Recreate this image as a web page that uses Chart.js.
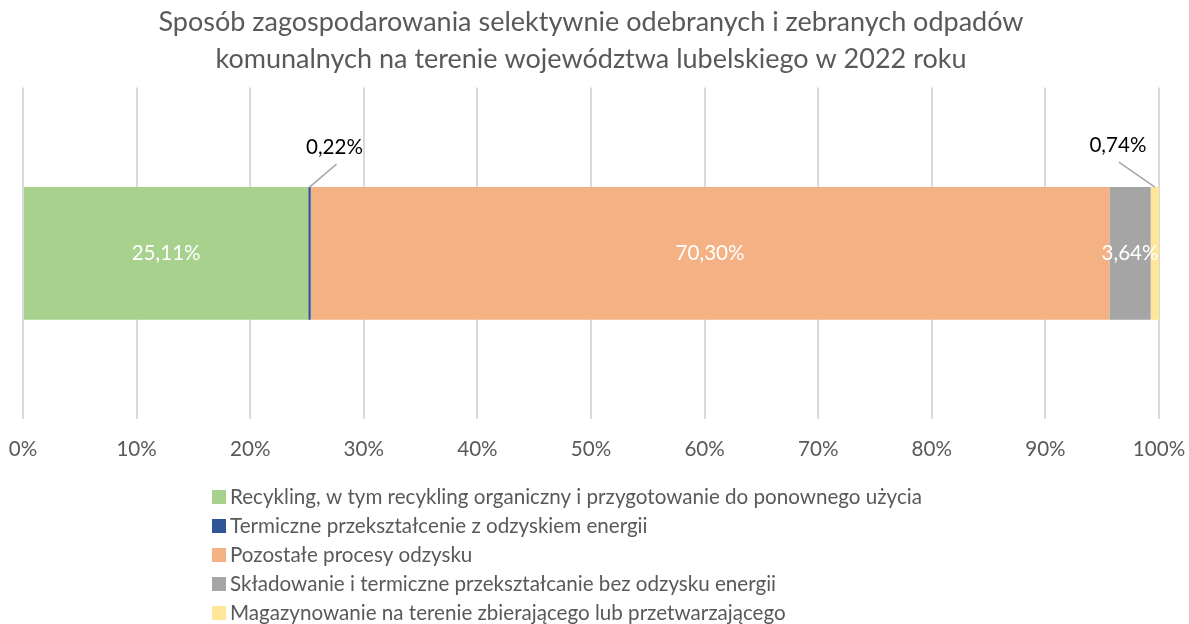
<!DOCTYPE html>
<html lang="pl">
<head>
<meta charset="utf-8">
<script src="https://cdn.jsdelivr.net/npm/chart.js@4/dist/chart.umd.min.js"></script>
<style>
  html, body { margin: 0; padding: 0; background: #ffffff; }
  #wrap { width: 1189px; height: 624px; }
</style>
</head>
<body>
<div id="wrap"><canvas id="chart" width="1189" height="624"></canvas></div>
<script>
const FONT = 'Lato, "Open Sans", sans-serif'
const TEXT_SIZE = 20.6

const titleLines = [
  'Sposób zagospodarowania selektywnie odebranych i zebranych odpadów',
  'komunalnych na terenie województwa lubelskiego w 2022 roku'
]
const categories = ['2022']
const seriesNames = [
  'Recykling, w tym recykling organiczny i przygotowanie do ponownego użycia',
  'Termiczne przekształcenie z odzyskiem energii',
  'Pozostałe procesy odzysku',
  'Składowanie i termiczne przekształcanie bez odzysku energii',
  'Magazynowanie na terenie zbierającego lub przetwarzającego'
]
const seriesValues = [25.11, 0.22, 70.30, 3.64, 0.74]
const seriesColors = ['#a9d18e', '#2f5597', '#f4b183', '#a5a5a5', '#ffe699']
const xTicks = [0, 10, 20, 30, 40, 50, 60, 70, 80, 90, 100]

// small segments get an outside label with a leader line
const callouts = {
  1: { dx: 25, dy: -40 },
  4: { dx: -37, dy: -42 }
}

function pct(v) {
  return v.toFixed(2).replace('.', ',') + '%'
}

const datasets = seriesNames.map((name, i) => ({
  label: name,
  data: [seriesValues[i]],
  backgroundColor: seriesColors[i],
  borderWidth: 0,
  barPercentage: 0.5,
  categoryPercentage: 0.8
}))

const segmentLabels = {
  id: 'segmentLabels',
  afterDatasetsDraw(chart) {
    const ctx = chart.ctx
    ctx.save()
    ctx.font = TEXT_SIZE + 'px ' + FONT
    ctx.textAlign = 'center'
    ctx.textBaseline = 'middle'
    chart.data.datasets.forEach((ds, i) => {
      const bar = chart.getDatasetMeta(i).data[0]
      const text = pct(ds.data[0])
      const mid = (bar.x + bar.base) / 2
      const c = callouts[i]
      if (!c) {
        ctx.fillStyle = '#ffffff'
        ctx.fillText(text, mid, bar.y)
        return
      }
      const top = bar.y - bar.height / 2
      const lx = mid + c.dx
      const ly = top + c.dy
      ctx.strokeStyle = '#a6a6a6'
      ctx.lineWidth = 1.5
      ctx.beginPath()
      ctx.moveTo(mid, top)
      ctx.lineTo(lx + (c.dx > 0 ? 2 : 1), ly + 17)
      ctx.stroke()
      ctx.fillStyle = '#000000'
      ctx.fillText(text, lx, ly)
    })
    ctx.restore()
  }
}

// one-column legend under the axis
const listLegend = {
  id: 'listLegend',
  afterDraw(chart) {
    const ctx = chart.ctx
    const x0 = 212
    const y0 = 497
    const step = 29
    ctx.save()
    ctx.font = TEXT_SIZE + 'px ' + FONT
    ctx.textAlign = 'left'
    ctx.textBaseline = 'middle'
    chart.data.datasets.forEach((ds, i) => {
      const y = y0 + i * step
      ctx.fillStyle = ds.backgroundColor
      ctx.fillRect(x0, y - 7, 14, 14)
      ctx.fillStyle = '#595959'
      ctx.fillText(ds.label, x0 + 18, y)
    })
    ctx.restore()
  }
}

Chart.defaults.font.family = FONT
Chart.defaults.color = '#595959'

const myChart = new Chart('chart', {
  type: 'bar',
  data: { labels: categories, datasets: datasets },
  options: {
    indexAxis: 'y',
    responsive: false,
    animation: false,
    layout: { padding: { left: 23, right: 30, top: 0, bottom: 144 } },
    plugins: {
      legend: { display: false },
      tooltip: { enabled: false },
      title: {
        display: true,
        text: titleLines,
        color: '#595959',
        font: { size: 27, weight: 'normal', lineHeight: 1.4 },
        padding: { top: 3, bottom: 9 }
      }
    },
    scales: {
      x: {
        stacked: true,
        min: 0,
        max: 100,
        afterBuildTicks: (axis) => { axis.ticks = xTicks.map(v => ({ value: v })) },
        afterFit: (axis) => { axis.paddingLeft = 0; axis.paddingRight = 0 },
        border: { display: false },
        grid: { color: '#d9d9d9', lineWidth: 2, drawTicks: false },
        ticks: {
          padding: 18,
          font: { size: TEXT_SIZE },
          color: '#595959',
          callback: (v) => v + '%'
        }
      },
      y: {
        stacked: true,
        display: false
      }
    }
  },
  plugins: [segmentLabels, listLegend]
})
</script>
</body>
</html>
